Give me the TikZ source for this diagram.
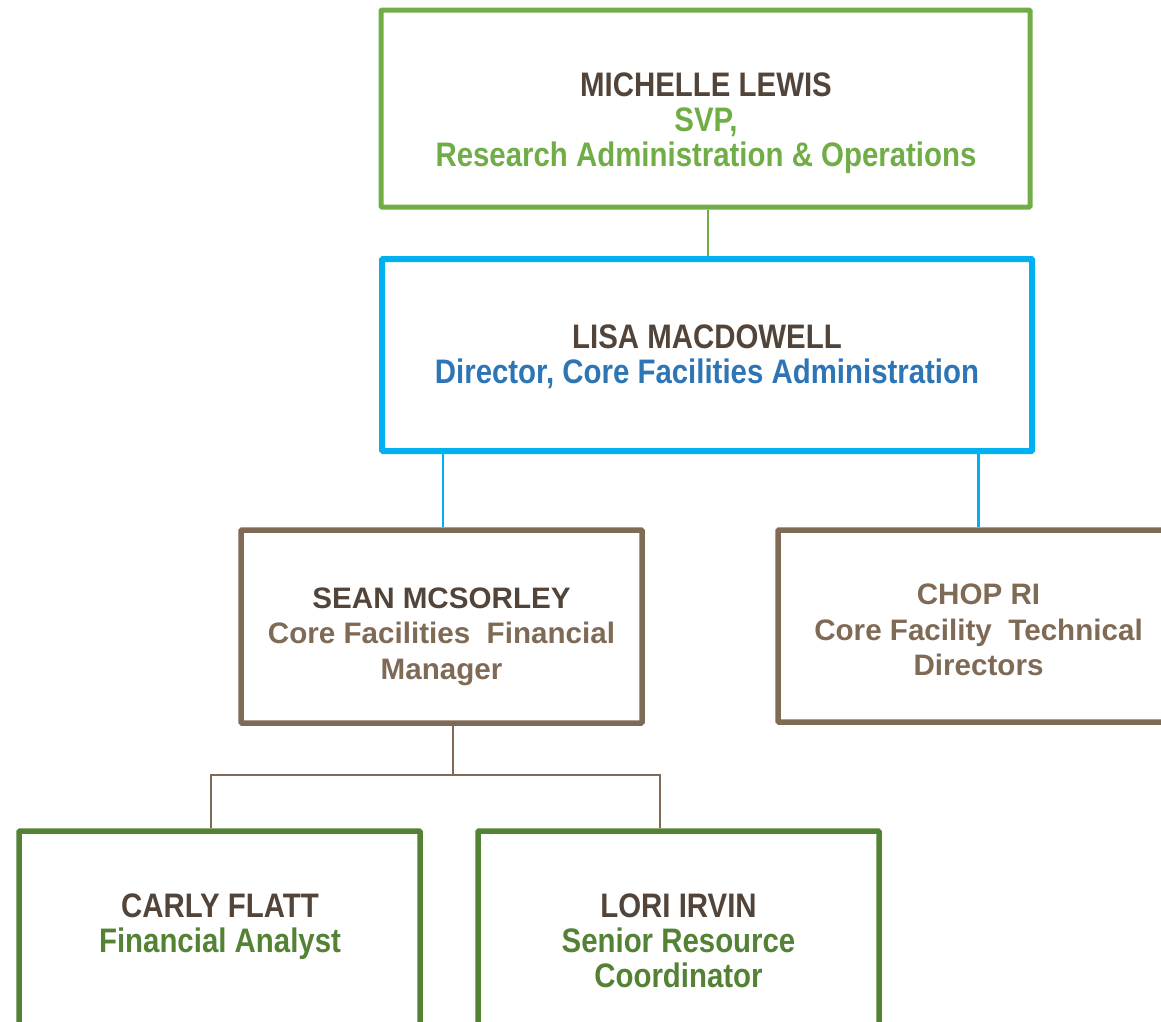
\documentclass[tikz,border=0pt]{standalone}
\usepackage{fontspec}
\setmainfont{Liberation Sans}
\newfontfamily\narrowfont[FakeStretch=0.865]{Liberation Sans}

\definecolor{svpgreen}{HTML}{70AD47}
\definecolor{staffgreen}{HTML}{548235}
\definecolor{dirblue}{HTML}{00B0F0}
\definecolor{dirtext}{HTML}{2E75B6}
\definecolor{mgrbrown}{HTML}{7F6A55}
\definecolor{namebrown}{HTML}{524439}

\tikzset{
  orgbox/.style={draw,rectangle,rounded corners=1pt,inner sep=0pt,line width=5.5pt},
  narrowtext/.style={align=center,font=\narrowfont\bfseries\fontsize{34}{35}\selectfont},
  widetext/.style={align=center,font=\bfseries\fontsize{29.6}{35.5}\selectfont},
  link/.style={line width=2.5pt}
}

\begin{document}
\begin{tikzpicture}[x=1pt,y=-1pt]
  \useasboundingbox (0,0) rectangle (1161,1021);
  \clip (0,0) rectangle (1161,1021);

  % boxes
  \node [orgbox,draw=svpgreen,line width=5pt,minimum width=649pt,
  minimum height=197pt] (lewis) at (705.5,108.5) {};

  \node [orgbox,draw=dirblue,line width=6pt,minimum width=650pt,
  minimum height=192pt] (macdowell) at (707,355) {};

  \node [orgbox,draw=mgrbrown,minimum width=401pt,
  minimum height=193pt] (mcsorley) at (441.5,626.5) {};

  \node [orgbox,draw=mgrbrown,minimum width=401pt,
  minimum height=192pt] (chopri) at (978.5,626) {};

  \node [orgbox,draw=staffgreen,minimum width=401pt,
  minimum height=205pt] (flatt) at (219.5,933.5) {};

  \node [orgbox,draw=staffgreen,minimum width=401pt,
  minimum height=205pt] (irvin) at (678.5,933.5) {};

  % texts
  \node [narrowtext,text=svpgreen] (lewis-text) at (706,123.5)
  {\textcolor{namebrown}{MICHELLE LEWIS}\\SVP,\\Research Administration \& Operations};

  \node [narrowtext,text=dirtext] (macdowell-text) at (707,356.5)
  {\textcolor{namebrown}{LISA MACDOWELL}\\Director, Core Facilities Administration};

  \node [widetext,text=mgrbrown] (mcsorley-text) at (441.5,636.5)
  {\textcolor{namebrown}{SEAN MCSORLEY}\\Core Facilities\ \ Financial\\Manager};

  \node [widetext,text=mgrbrown] (chopri-text) at (978.5,630)
  {CHOP RI\\Core Facility\ \ Technical\\Directors};

  \node [narrowtext,text=staffgreen] (flatt-text) at (220,927)
  {\textcolor{namebrown}{CARLY FLATT}\\Financial Analyst};

  \node [narrowtext,text=staffgreen] (irvin-text) at (678.5,941)
  {\textcolor{namebrown}{LORI IRVIN}\\Senior Resource\\Coordinator};

  % connectors
  \draw [link,svpgreen] ([xshift=2.5pt]lewis.south) -- ([xshift=1pt]macdowell.north);
  \draw [link,dirblue] (macdowell.south -| 443,0) -- (mcsorley.north -| 443,0);
  \draw [link,dirblue] (macdowell.south -| chopri.north) -- (chopri.north);

  \coordinate (bus) at (453,775);
  \draw [link,mgrbrown] (mcsorley.south -| bus) -- (bus);
  \draw [link,mgrbrown] (bus) -| (flatt.north -| 211,0);
  \draw [link,mgrbrown] (bus) -| (irvin.north -| 660,0);
\end{tikzpicture}
\end{document}
